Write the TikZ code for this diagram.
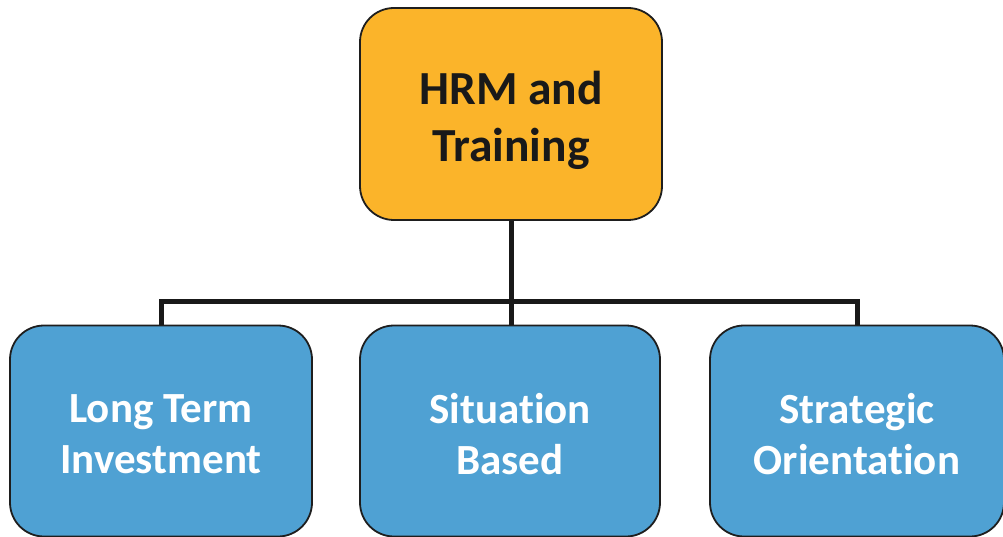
\documentclass[tikz,border=0pt]{standalone}
\usepackage{fontspec}
\setmainfont{Carlito}[Ligatures={NoCommon,NoContextual}]
\definecolor{topfill}{RGB}{251,180,42}
\definecolor{boxfill}{RGB}{79,161,211}
\definecolor{edge}{RGB}{30,30,30}
\begin{document}
\begin{tikzpicture}[x=1pt,y=-1pt,
  box/.style={draw=edge,line width=1.8pt,rounded corners=34pt,inner sep=0pt},
  topbox/.style={box,fill=topfill,minimum width=302pt,minimum height=212pt},
  subbox/.style={box,fill=boxfill,minimum height=211pt},
  toptext/.style={align=center,inner sep=0pt,font=\fontsize{47.5}{57}\selectfont\bfseries,text=black!90},
  subtext/.style={align=center,inner sep=0pt,font=\fontsize{43}{51}\selectfont\bfseries,text=white},
  link/.style={draw=black!90,line width=5pt}]
\useasboundingbox (0,0) rectangle (1003,537);
\node[topbox] (top) at (511,114) {};
\node[subbox,minimum width=302pt] (a) at (161,431) {};
\node[subbox,minimum width=300pt] (b) at (510,431) {};
\node[subbox,minimum width=294pt] (c) at (857,431) {};
\node[toptext,yshift=-6pt] (topt) at (top.center) {HRM and\\Training};
\node[subtext,yshift=-3pt] (at) at (a.center) {Long Term\\Investment};
\node[subtext,yshift=-3pt] (bt) at (b.center) {Situat\kern0pt ion\\Based};
\node[subtext,yshift=-3pt] (ct) at (c.center) {Strategic\\Orientat\kern0pt ion};
\coordinate (j) at (511,301);
\draw[link] (top.south) -- (j);
\draw[link] (j) -- (b.north -| j);
\draw[link] (a.north) |- (j) -| (c.north);
\end{tikzpicture}
\end{document}
